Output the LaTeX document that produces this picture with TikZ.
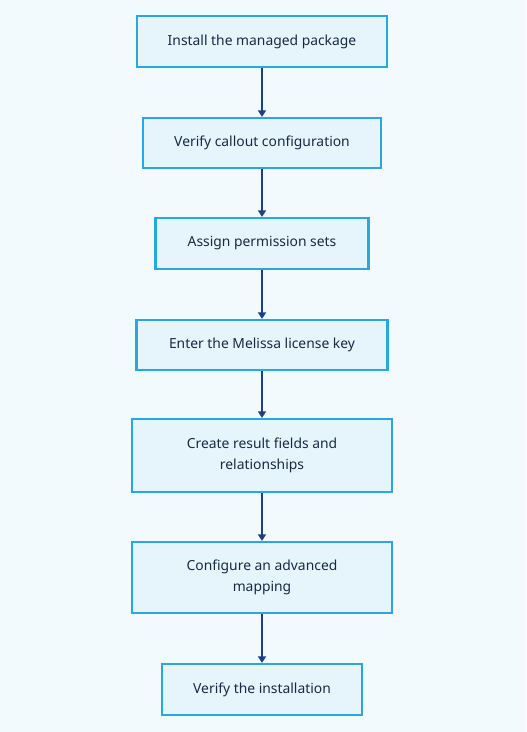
\documentclass[tikz,border=0pt]{standalone}
\usepackage{fontspec}
\setmainfont{Noto Sans}
\usetikzlibrary{arrows.meta}
\definecolor{bgc}{HTML}{F2FAFD}
\definecolor{boxfill}{HTML}{E6F5FC}
\definecolor{boxline}{HTML}{29A8E0}
\definecolor{arrowc}{HTML}{1F4080}
\definecolor{txt}{HTML}{1A2846}
\tikzset{
  stepbox/.style={draw=boxline, fill=boxfill, line width=1.6pt, rectangle, inner sep=0pt, align=center, text=txt, font=\fontsize{10.4}{15.8}\selectfont},
  flowarrow/.style={draw=arrowc, line width=1.4pt, -{Triangle[length=5pt,width=6pt]}}
}
\begin{document}
\begin{tikzpicture}[x=0.75pt,y=-0.75pt]
\fill[bgc] (0,0) rectangle (526,732);
\useasboundingbox (0,0) rectangle (526,732);
\node[stepbox, minimum width={250*0.75pt}, minimum height={51*0.75pt}] (b1) at (262,41.5) {Install the managed package};
\node[stepbox, minimum width={238*0.75pt}, minimum height={50*0.75pt}] (b2) at (262,143) {Verify callout configuration};
\node[stepbox, minimum width={213*0.75pt}, minimum height={51*0.75pt}] (b3) at (262,243.5) {Assign permission sets};
\node[stepbox, minimum width={251*0.75pt}, minimum height={50*0.75pt}] (b4) at (262,345) {Enter the Melissa license key};
\node[stepbox, minimum width={260*0.75pt}, minimum height={73*0.75pt}] (b5) at (262,455.5) {Create result fields and\\relationships};
\node[stepbox, minimum width={260*0.75pt}, minimum height={71*0.75pt}] (b6) at (262,577.5) {Configure an advanced\\mapping};
\node[stepbox, minimum width={200*0.75pt}, minimum height={51*0.75pt}] (b7) at (262,689.5) {Verify the installation};
\draw[flowarrow] (b1.south) -- (b2.north);
\draw[flowarrow] (b2.south) -- (b3.north);
\draw[flowarrow] (b3.south) -- (b4.north);
\draw[flowarrow] (b4.south) -- (b5.north);
\draw[flowarrow] (b5.south) -- (b6.north);
\draw[flowarrow] (b6.south) -- (b7.north);
\end{tikzpicture}
\end{document}
